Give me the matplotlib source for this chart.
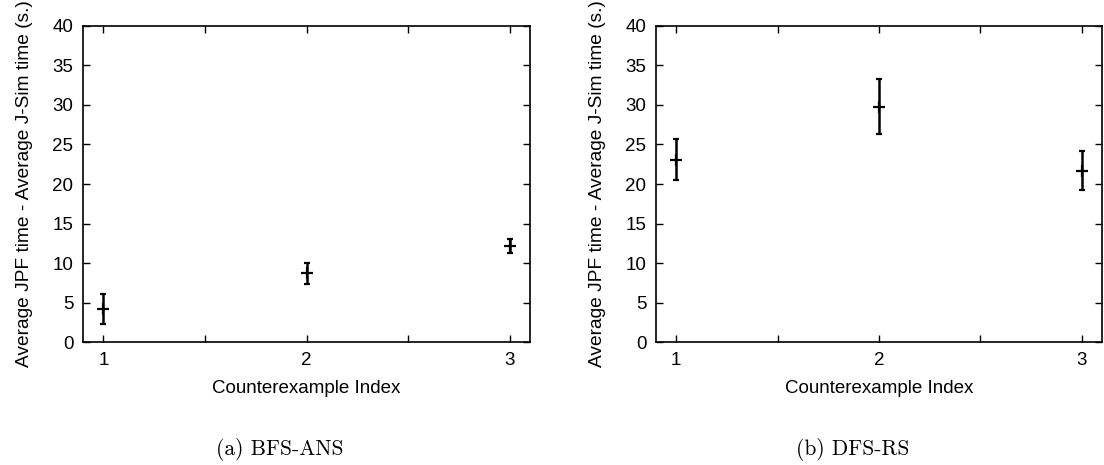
# two error-bar panels, gnuplot look

import matplotlib.pyplot as plt

index = [1, 2, 3]

bfs_mean = [4.2, 8.7, 12.2]
bfs_err = [1.9, 1.35, 0.9]

dfs_mean = [23.1, 29.8, 21.7]
dfs_err = [2.55, 3.5, 2.45]

captions = ["(a) BFS-ANS", "(b) DFS-RS"]
ylabel = "Average JPF time - Average J-Sim time (s.)"
xlabel = "Counterexample Index"

plt.rcParams['font.family'] = ['Liberation Sans', 'DejaVu Sans']

fig = plt.figure(figsize=(11.04, 4.65), dpi=100)
ax1 = fig.add_axes([0.0752, 0.2645, 0.4049, 0.6796])
ax2 = fig.add_axes([0.5942, 0.2645, 0.4040, 0.6796])

for ax, mean, err, cap in [(ax1, bfs_mean, bfs_err, captions[0]),
                           (ax2, dfs_mean, dfs_err, captions[1])]:
    ax.errorbar(index, mean, yerr=err, fmt='+', color='black',
                ms=8, mew=1.6, elinewidth=1.8, capsize=2, capthick=1.8)
    ax.set_xlim(0.9, 3.1)
    ax.set_ylim(0, 40)
    ax.set_xticks([1, 1.5, 2, 2.5, 3])
    ax.set_xticklabels(['1', '', '2', '', '3'])
    ax.set_yticks(range(0, 41, 5))
    ax.tick_params(direction='in', length=5, width=1, top=True, right=True,
                   labelsize=13.5, pad=7)
    for s in ax.spines.values():
        s.set_linewidth(1.2)
    ax.set_xlabel(xlabel, fontsize=13.5, labelpad=8)
    ax.set_ylabel(ylabel, fontsize=13.8, labelpad=14)
    pos = ax.get_position()
    fig.text(pos.x0 + pos.width * 0.44, 0.022, cap, family='cmr10',
             fontsize=15.5, ha='center', va='baseline')

plt.savefig("out.png", dpi=100)
